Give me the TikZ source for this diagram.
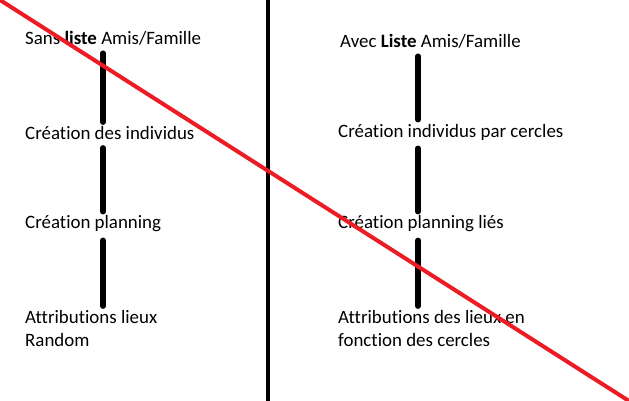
\documentclass[tikz,border=0pt]{standalone}
\usepackage{fontspec}
\setmainfont{Carlito}[Ligatures=NoCommon]
\usetikzlibrary{calc}
\definecolor{strikered}{RGB}{237,28,36}

\begin{document}
\begin{tikzpicture}[
    x=1pt, y=-1pt,
    stage/.style={anchor=west, inner sep=0pt, align=left, font=\fontsize{18.9}{23}\selectfont},
    link/.style={line width=5.5pt, line cap=round, shorten <=8pt, shorten >=4pt},
    divider/.style={line width=4pt},
    cross/.style={line width=4pt, draw=strikered}
]
\useasboundingbox (0,0) rectangle (629,401);

% Sans liste
\node[stage] (sans) at (25,38) {Sans \textbf{liste} Amis/Famille};
\node[stage] (indiv) at (25,133) {Création des individus};
\node[stage] (planning) at (25,224) {Création planning};
\node[stage] (lieux) at (25,328.5) {Attributions lieux\\Random};

% Avec Liste
\node[stage] (avec) at (340,41) {Avec \textbf{Liste} Amis/Famille};
\node[stage] (cercles) at (338,132) {Création individus par cercles};
\node[stage] (lies) at (338,224) {Création planning liés};
\node[stage] (fonction) at (338,328.5) {Attributions des lieux en\\fonction des cercles};

\coordinate (lx) at (103,0);
\coordinate (rx) at (418,0);

\draw[link] (sans.south -| lx) -- (indiv.north -| lx);
\draw[link] (indiv.south -| lx) -- (planning.north -| lx);
\draw[link] (planning.south -| lx) -- (lieux.north -| lx);

\draw[link] (avec.south -| rx) -- (cercles.north -| rx);
\draw[link] (cercles.south -| rx) -- (lies.north -| rx);
\draw[link] (lies.south -| rx) -- (fonction.north -| rx);

% separation + barre rouge
\draw[divider] (268,0) -- (268,401);
\draw[cross] (0,0) -- (629,401);

\end{tikzpicture}
\end{document}
